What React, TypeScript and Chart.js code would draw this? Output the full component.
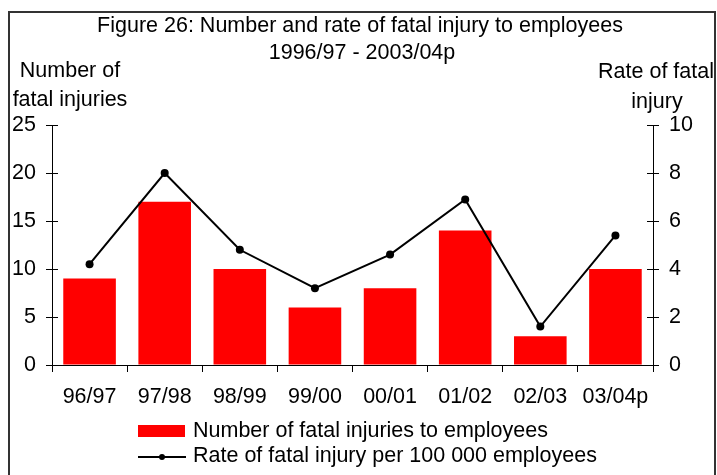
import React, { useEffect, useRef } from "react";
import { Chart, registerables } from "chart.js";

Chart.register(...registerables);

const categories = ["96/97", "97/98", "98/99", "99/00", "00/01", "01/02", "02/03", "03/04p"];
const fatalInjuries = [9, 17, 10, 6, 8, 14, 3, 10];
const fatalRate = [4.2, 8.0, 4.8, 3.2, 4.6, 6.9, 1.6, 5.4];
const titleLines = ["Figure 26: Number and rate of fatal injury to employees", "1996/97 - 2003/04p"];
const leftTitle = ["Number of", "fatal injuries"];
const rightTitle = ["Rate of fatal", "injury"];
const barLabel = "Number of fatal injuries to employees";
const lineLabel = "Rate of fatal injury per 100 000 employees";

const FONT = "'Liberation Sans', Arial, sans-serif";
const FS = 21.5;

const decorPlugin = {
  id: "decor",
  beforeDraw(chart: any) {
    const ctx = chart.ctx;
    ctx.save();
    ctx.fillStyle = "#ffffff";
    ctx.fillRect(0, 0, chart.width, chart.height);
    ctx.strokeStyle = "#333333";
    ctx.lineWidth = 2;
    ctx.beginPath();
    ctx.moveTo(9, 480);
    ctx.lineTo(9, 12);
    ctx.lineTo(715, 12);
    ctx.lineTo(715, 480);
    ctx.stroke();
    ctx.restore();
  },
  afterDraw(chart: any) {
    const ctx = chart.ctx;
    ctx.save();
    ctx.fillStyle = "#000";
    ctx.font = `${FS}px ${FONT}`;
    ctx.textAlign = "center";
    ctx.textBaseline = "middle";
    ctx.fillText(titleLines[0], 360, 26);
    ctx.fillText(titleLines[1], 362, 53);
    ctx.fillText(leftTitle[0], 70, 71);
    ctx.fillText(leftTitle[1], 70, 100);
    ctx.fillText(rightTitle[0], 656, 72);
    ctx.fillText(rightTitle[1], 657, 102);

    // inner halves of the y tick marks
    const yl = chart.scales.y;
    const yr = chart.scales.y1;
    ctx.strokeStyle = "#000";
    ctx.lineWidth = 1;
    ctx.beginPath();
    yl.ticks.forEach((t: any) => {
      const py = Math.round(yl.getPixelForValue(t.value)) + 0.5;
      ctx.moveTo(yl.right, py);
      ctx.lineTo(yl.right + 6, py);
    });
    yr.ticks.forEach((t: any) => {
      const py = Math.round(yr.getPixelForValue(t.value)) + 0.5;
      ctx.moveTo(yr.left - 6, py);
      ctx.lineTo(yr.left, py);
    });
    ctx.stroke();

    // legend
    ctx.textAlign = "left";
    ctx.fillStyle = "#ff0000";
    ctx.fillRect(138, 425, 47, 12);
    ctx.fillStyle = "#000";
    ctx.fillText(barLabel, 193, 431);
    ctx.beginPath();
    ctx.lineWidth = 2;
    ctx.moveTo(138, 457);
    ctx.lineTo(186, 457);
    ctx.stroke();
    ctx.beginPath();
    ctx.arc(162, 457, 3, 0, Math.PI * 2);
    ctx.fill();
    ctx.fillText(lineLabel, 193, 456);
    ctx.restore();
  },
};

export default function App() {
  const ref = useRef<HTMLCanvasElement | null>(null);
  useEffect(() => {
    if (!ref.current) return;
    const tickFont = { family: FONT, size: FS };
    const chart = new Chart(ref.current, {
      type: "bar",
      data: {
        labels: categories,
        datasets: [
          {
            type: "line",
            label: lineLabel,
            data: fatalRate,
            yAxisID: "y1",
            borderColor: "#000",
            backgroundColor: "#000",
            borderWidth: 2,
            pointRadius: 4,
            pointBackgroundColor: "#000",
            pointBorderWidth: 0,
            tension: 0,
            order: 0,
          } as any,
          {
            type: "bar",
            label: barLabel,
            data: fatalInjuries,
            yAxisID: "y",
            backgroundColor: "#ff0000",
            borderWidth: 0,
            categoryPercentage: 1,
            barPercentage: 0.7,
            order: 1,
          },
        ],
      },
      options: {
        responsive: false,
        animation: false,
        layout: { padding: { top: 125, bottom: 0, left: 0, right: 0 } },
        plugins: { legend: { display: false }, title: { display: false }, tooltip: { enabled: false } },
        scales: {
          x: {
            offset: true,
            grid: { offset: true, drawOnChartArea: false, tickLength: 7, color: "#000" },
            border: { color: "#000" },
            ticks: { font: tickFont, color: "#000", padding: 12, maxRotation: 0 },
            afterFit(s: any) { s.height = 110; },
          },
          y: {
            position: "left",
            min: 0,
            max: 25,
            grid: { drawOnChartArea: false, tickLength: 6, color: "#000" },
            border: { color: "#000" },
            ticks: { stepSize: 5, font: tickFont, color: "#000", padding: 10 },
            afterFit(s: any) { s.width = 52; },
          },
          y1: {
            position: "right",
            min: 0,
            max: 10,
            grid: { drawOnChartArea: false, tickLength: 6, color: "#000" },
            border: { color: "#000" },
            ticks: { stepSize: 2, font: tickFont, color: "#000", padding: 10 },
            afterFit(s: any) { s.width = 64; },
          },
        },
      },
      plugins: [decorPlugin],
    });
    return () => chart.destroy();
  }, []);
  return (
    <div style={{ position: "fixed", left: 0, top: 0, width: 717, height: 475, background: "#fff" }}>
      <canvas ref={ref} width={717} height={475} style={{ width: 717, height: 475, display: "block" }} />
    </div>
  );
}
